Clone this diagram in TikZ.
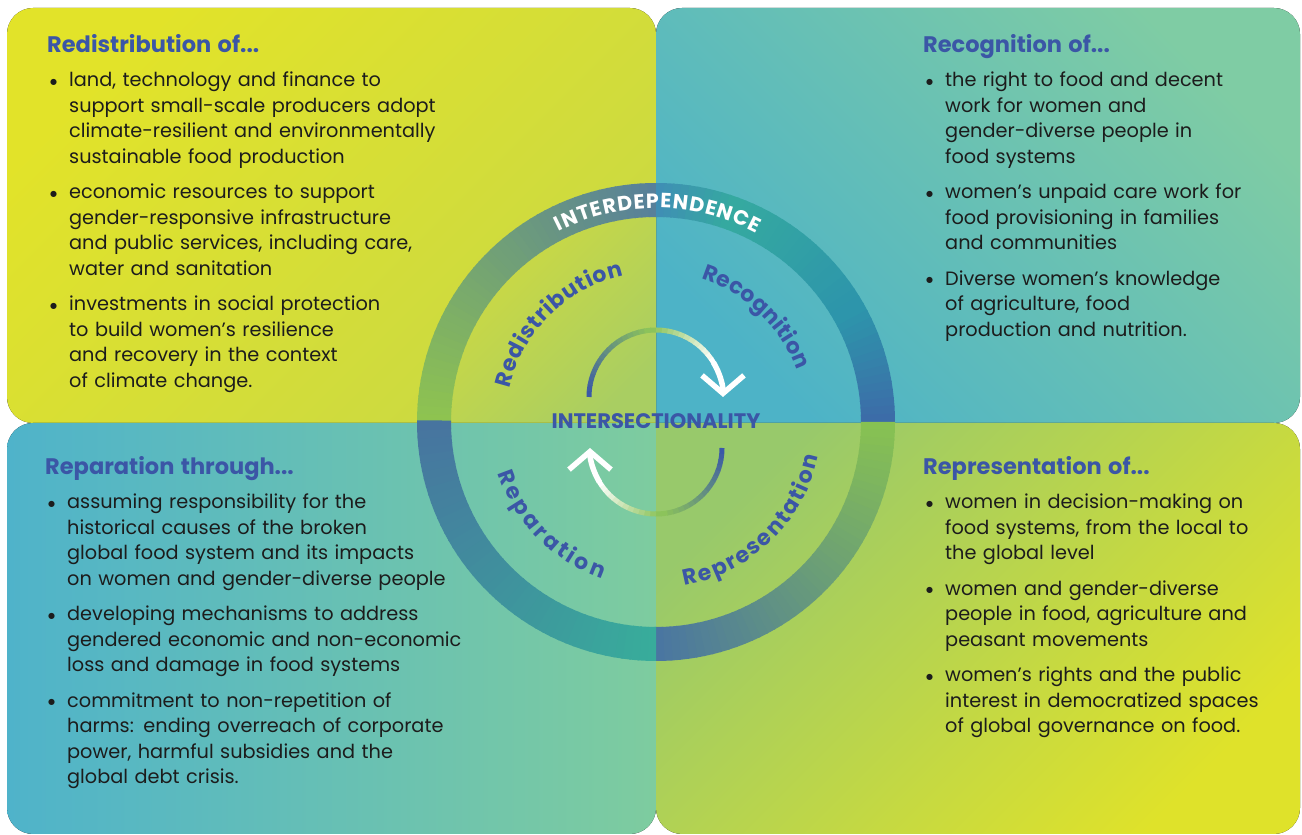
\documentclass[tikz,border=0pt]{standalone}
\usepackage{fontspec}
\usepackage{enumitem}
\setmainfont{Poppins}
\newfontfamily\bulletfont{DejaVu Sans}
\usetikzlibrary{arrows.meta,decorations.text}

\definecolor{headblue}{HTML}{3B56A6}
\definecolor{bodyblack}{HTML}{1C1C1C}
\definecolor{tlA}{HTML}{E2E329}
\definecolor{tlB}{HTML}{CAD943}
\definecolor{trA}{HTML}{7FCCA4}
\definecolor{trB}{HTML}{4DB3C7}
\definecolor{blA}{HTML}{4FB3CA}
\definecolor{blB}{HTML}{7ECC9F}
\definecolor{brA}{HTML}{98C96B}
\definecolor{brB}{HTML}{DFE22A}
\definecolor{diskA}{HTML}{CFDA40}
\definecolor{diskB}{HTML}{A9CE62}
\definecolor{ringA}{HTML}{8EC350}
\definecolor{ringB}{HTML}{57809A}
\definecolor{ringC}{HTML}{3F8FB4}
\definecolor{ringD}{HTML}{35A9A0}
\definecolor{ringE}{HTML}{2D95AB}
\definecolor{ringF}{HTML}{3C6CA8}
\definecolor{ringG}{HTML}{87C152}
\definecolor{ringH}{HTML}{4A76A1}
\definecolor{ringI}{HTML}{38AC9B}
\definecolor{ringJ}{HTML}{47749F}
\definecolor{arrowblue}{HTML}{3A58A8}
\definecolor{arrowgreen}{HTML}{8CC35B}

\setlist[itemize]{label={\raisebox{2.6pt}{\bulletfont\fontsize{8}{8}\selectfont ●}}, leftmargin=22pt, labelsep=12pt, topsep=8.5pt, partopsep=0pt, parsep=0pt, itemsep=10pt}
\newcommand{\heading}[1]{{\fontsize{22.5}{25}\selectfont\bfseries\color{headblue}#1}\par}

\begin{document}
\begin{tikzpicture}[x=1pt,y=1pt,
  panel text/.style={anchor=base west,inner sep=0pt,text width=460pt,align=left,
    font=\fontsize{19.3}{25.5}\selectfont,text=bodyblack},
  tl box/.style={top color=tlA,bottom color=tlB,shading angle=45},
  tr box/.style={top color=trA,bottom color=trB,shading angle=-45},
  bl box/.style={left color=blA,right color=blB},
  br box/.style={top color=brA,bottom color=brB,shading angle=45},
  arc label/.style={decorate,decoration={text along path,text align=fit to path,
    text={|\bfseries\fontsize{22}{22}\selectfont\color{headblue}|#1}}}]
  \useasboundingbox (0,0) rectangle (1302,835);

  \fill[tl box] (656,412) -- (33,412) arc[start angle=270,end angle=180,radius=26]
    -- (7,801) arc[start angle=180,end angle=90,radius=26]
    -- (630,827) arc[start angle=90,end angle=0,radius=26] -- cycle;
  \fill[tr box] (656,412) -- (656,801) arc[start angle=180,end angle=90,radius=26]
    -- (1274,827) arc[start angle=90,end angle=0,radius=26]
    -- (1300,438) arc[start angle=0,end angle=-90,radius=26] -- cycle;
  \fill[bl box] (656,412) -- (33,412) arc[start angle=90,end angle=180,radius=26]
    -- (7,27) arc[start angle=180,end angle=270,radius=26]
    -- (630,1) arc[start angle=270,end angle=360,radius=26] -- cycle;
  \fill[br box] (656,412) -- (1274,412) arc[start angle=90,end angle=0,radius=26]
    -- (1300,27) arc[start angle=0,end angle=-90,radius=26]
    -- (682,1) arc[start angle=270,end angle=180,radius=26] -- cycle;

  \begin{scope}[shift={(656,413)}]
    \fill[top color=diskA,bottom color=diskB,shading angle=45] (0,0) -- (180:207) arc (180:90:207) -- cycle;

    \foreach \ta/\tb/\ca/\cb in {180/90/ringA/ringB,90/70/ringC/ringD,70/30/ringD/ringE,
        30/0/ringE/ringF,0/-90/ringG/ringH,-90/-180/ringI/ringJ} {
      \pgfmathtruncatemacro\n{(\ta-\tb)/2-1}
      \foreach \i in {0,...,\n} {
        \pgfmathsetmacro\s{\ta-2*\i}
        \pgfmathsetmacro\e{\s-2.4}
        \pgfmathtruncatemacro\p{100*\i/\n}
        \fill[\cb!\p!\ca] (\s:239) arc (\s:\e:239) -- (\e:205) arc (\e:\s:205) -- cycle;
      }
    }

    \path[decorate,decoration={text along path,text align=fit to path,
      text={|\bfseries\fontsize{20.5}{20.5}\selectfont\color{white}|INTERDEPENDENCE}}]
      (117:214) arc (117:62:214);

    \path[arc label=Redistribution] (167:150) arc (167:102.5:150);
    \path[arc label=Recognition] (72.5:150) arc (72.5:20:150);
    \path[arc label=Reparation] (198:166) arc (198:251:166);
    \path[arc label=Representation] (280:166) arc (280:348:166);

    \foreach \i in {0,...,16} {
      \pgfmathsetmacro\s{180-5*\i}
      \pgfmathsetmacro\e{\s-5.6}
      \pgfmathtruncatemacro\p{100*\i/16}
      \draw[line width=5pt,arrowgreen!\p!arrowblue] (0,25) ++(\s:67) arc (\s:\e:67);
      \pgfmathsetmacro\s{-5*\i}
      \pgfmathsetmacro\e{\s-5.6}
      \draw[line width=5pt,arrowgreen!\p!arrowblue] (0,-26) ++(\s:66) arc (\s:\e:66);
    }
    \foreach \i in {0,...,12} {
      \pgfmathsetmacro\s{95-5*\i}
      \pgfmathsetmacro\e{\s-5.6}
      \pgfmathtruncatemacro\p{100*\i/12}
      \draw[line width=5pt,white!\p!arrowgreen] (0,25) ++(\s:67) arc (\s:\e:67);
      \pgfmathsetmacro\s{-85-5*\i}
      \pgfmathsetmacro\e{\s-5.6}
      \draw[line width=5pt,white!\p!arrowgreen] (0,-26) ++(\s:66) arc (\s:\e:66);
    }
    \draw[line width=5.5pt,white,-{Straight Barb[length=18pt,width=42pt]}] (0,25) ++(31:67) arc (31:0:67);
    \draw[line width=5.5pt,white,-{Straight Barb[length=18pt,width=42pt]}] (0,-26) ++(-149:66) arc (-149:-180:66);

    \node[font=\fontsize{21}{24}\selectfont\bfseries,text=headblue] (inter) at (0,1) {INTERSECTIONALITY};
  \end{scope}

  \node[panel text] (redistext) at (47,782) {\heading{Redistribution of...}
    \begin{itemize}
    \item land, technology and finance to\\ support small-scale producers adopt\\ climate-resilient and environmentally\\ sustainable food production
    \item economic resources to support\\ gender-responsive infrastructure\\ and public services, including care,\\ water and sanitation
    \item investments in social protection\\ to build women’s resilience\\ and recovery in the context\\ of climate change.
    \end{itemize}};
  \node[panel text] (recogtext) at (923,782) {\heading{Recognition of...}
    \begin{itemize}
    \item the right to food and decent\\ work for women and\\ gender-diverse people in\\ food systems
    \item women’s unpaid care work for\\ food provisioning in families\\ and communities
    \item Diverse women’s knowledge\\ of agriculture, food\\ production and nutrition.
    \end{itemize}};
  \node[panel text] (repartext) at (45,360) {\heading{Reparation through...}
    \begin{itemize}
    \item assuming responsibility for the\\ historical causes of the broken\\ global food system and its impacts\\ on women and gender-diverse people
    \item developing mechanisms to address\\ gendered economic and non-economic\\ loss and damage in food systems
    \item commitment to non-repetition of\\ harms: ending overreach of corporate\\ power, harmful subsidies and the\\ global debt crisis.
    \end{itemize}};
  \node[panel text] (repretext) at (923,360) {\heading{Representation of...}
    \begin{itemize}
    \item women in decision-making on\\ food systems, from the local to\\ the global level
    \item women and gender-diverse\\ people in food, agriculture and\\ peasant movements
    \item women’s rights and the public\\ interest in democratized spaces\\ of global governance on food.
    \end{itemize}};
\end{tikzpicture}
\end{document}
